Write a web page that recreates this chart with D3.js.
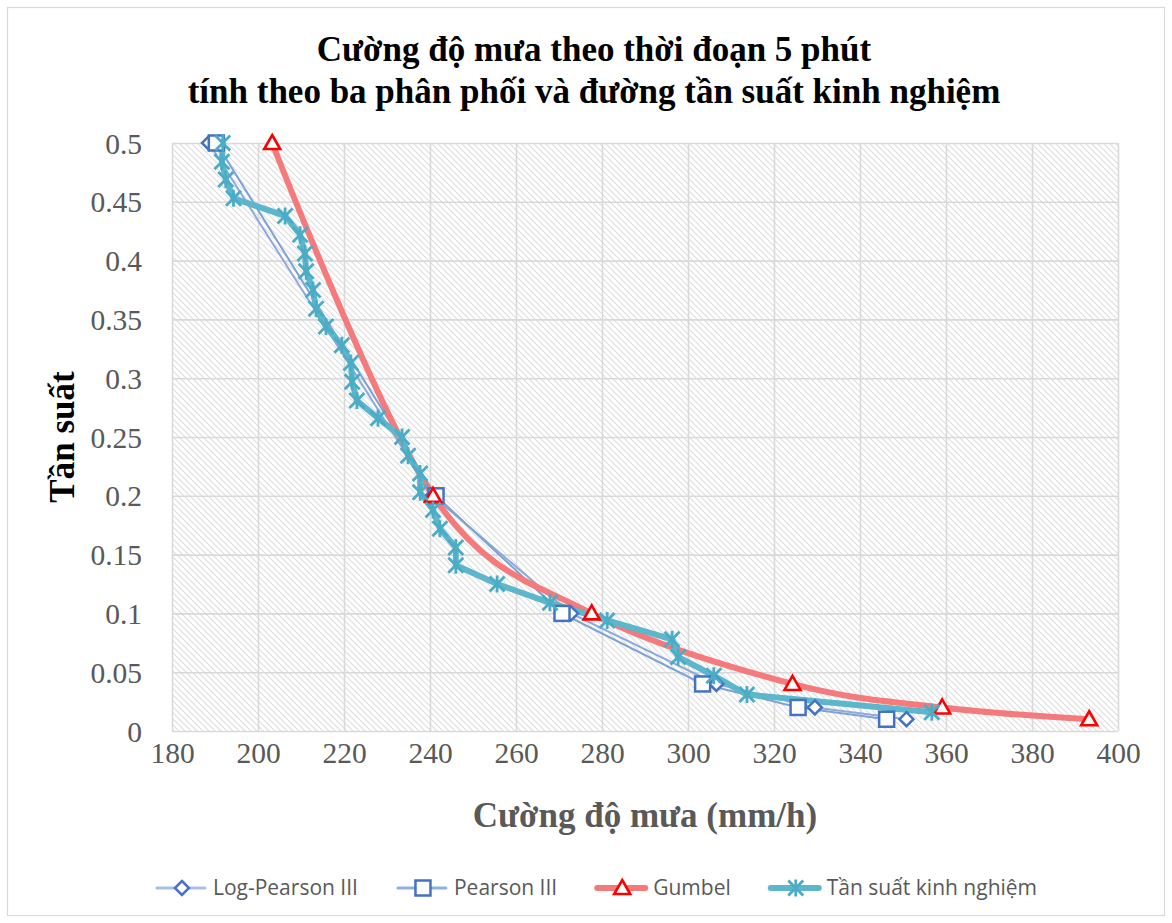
<!DOCTYPE html>
<html lang="vi">
<head>
<meta charset="utf-8" />
<title>Cường độ mưa theo thời đoạn 5 phút</title>
<style>
html, body {
	margin: 0;
	padding: 0;
	background: #fff;
}
svg {
	display: block;
}
.tick text {
	font-family: "Liberation Serif", "Times New Roman", serif;
	font-size: 29.5px;
	fill: #595959;
}
</style>
</head>
<body>
<svg width="1172" height="923"></svg>

<script src="https://cdn.jsdelivr.net/npm/d3@7/dist/d3.min.js"></script>
<script>
// tần suất của ba phân phối lý thuyết
var tanSuat = [0.5, 0.2, 0.1, 0.04, 0.02, 0.01];
var logPearson = [188.6, 240.6, 272.8, 306.6, 329.5, 350.8];
var pearson = [190.3, 241.4, 270.7, 303.4, 325.6, 346.2];
var gumbel = [203.3, 240.7, 277.6, 324.3, 359.1, 393.3];

// đường tần suất kinh nghiệm
var kinhNghiemP = [0.5, 0.484, 0.469, 0.453, 0.438, 0.422, 0.406, 0.391, 0.375, 0.359, 0.344,
	0.328, 0.313, 0.297, 0.281, 0.266, 0.25, 0.234, 0.219, 0.203, 0.188, 0.172, 0.156,
	0.141, 0.125, 0.109, 0.094, 0.078, 0.063, 0.047, 0.031, 0.016];
var kinhNghiemX = [191.8, 191.6, 192.5, 194.3, 206.3, 209.8, 210.9, 211.2, 212.8, 213.5, 215.8,
	219.5, 221.6, 221.9, 223.0, 227.9, 233.5, 234.9, 237.7, 237.7, 240.7, 242.3, 246.0,
	246.0, 255.6, 267.9, 281.2, 296.3, 297.7, 306.0, 313.7, 356.7];

var xTicks = [180, 200, 220, 240, 260, 280, 300, 320, 340, 360, 380, 400];
var yTicks = [0, 0.05, 0.1, 0.15, 0.2, 0.25, 0.3, 0.35, 0.4, 0.45, 0.5];

var tenSeries = ["Log-Pearson III", "Pearson III", "Gumbel", "Tần suất kinh nghiệm"];

var svg = d3.select("svg");

// khung ngoài
svg.append("rect")
	.attr("x", 7.5).attr("y", 7.5)
	.attr("width", 1157).attr("height", 908)
	.attr("fill", "#fff")
	.attr("stroke", "#d9d9d9")
	.attr("stroke-width", 1.2);

var plot = {left: 172, right: 1118, top: 143, bottom: 731};

var x = d3.scaleLinear().domain([180, 400]).range([plot.left, plot.right]);
var y = d3.scaleLinear().domain([0, 0.5]).range([plot.bottom, plot.top]);

// nền gạch chéo
var defs = svg.append("defs");
var pat = defs.append("pattern")
	.attr("id", "hatch")
	.attr("patternUnits", "userSpaceOnUse")
	.attr("width", 6).attr("height", 6);
pat.append("path")
	.attr("d", "M-1,-1 L7,7 M-4,2 L1,7 M2,-4 L7,1")
	.attr("stroke", "#dedede")
	.attr("stroke-width", 1.2);

svg.append("rect")
	.attr("x", plot.left).attr("y", plot.top)
	.attr("width", plot.right - plot.left)
	.attr("height", plot.bottom - plot.top)
	.attr("fill", "url(#hatch)");

// lưới
var gx = svg.append("g")
	.attr("transform", "translate(0," + plot.bottom + ")")
	.call(d3.axisBottom(x).tickValues(xTicks).tickSize(-(plot.bottom - plot.top)).tickPadding(26).tickFormat(d3.format("d")));
var gy = svg.append("g")
	.attr("transform", "translate(" + plot.left + ",0)")
	.call(d3.axisLeft(y).tickValues(yTicks).tickSize(-(plot.right - plot.left)).tickPadding(30).tickFormat(function(d){ return String(+d.toFixed(2)); }));

[gx, gy].forEach(function(g){
	g.select(".domain").remove();
	g.selectAll(".tick line").attr("stroke", "#d9d9d9").attr("stroke-width", 1.6);
});
gy.selectAll(".tick text").attr("dy", "0.34em");
gx.selectAll(".tick text").attr("dy", "0.2em");

// dữ liệu
var dLP = tanSuat.map(function(p, i){ return [logPearson[i], p]; });
var dP = tanSuat.map(function(p, i){ return [pearson[i], p]; });
var dG = tanSuat.map(function(p, i){ return [gumbel[i], p]; });
var dK = kinhNghiemP.map(function(p, i){ return [kinhNghiemX[i], p]; });

var line = d3.line().x(function(d){ return x(d[0]); }).y(function(d){ return y(d[1]); });
var smooth = d3.line().curve(d3.curveCatmullRom.alpha(0)).x(function(d){ return x(d[0]); }).y(function(d){ return y(d[1]); });

svg.append("path").datum(dLP).attr("d", line)
	.attr("fill", "none").attr("stroke", "#8eaadb").attr("stroke-width", 2);
svg.append("path").datum(dP).attr("d", line)
	.attr("fill", "none").attr("stroke", "#7ba3d6").attr("stroke-width", 2);
svg.append("path").datum(dG).attr("d", smooth)
	.attr("fill", "none").attr("stroke", "#f47a7c").attr("stroke-width", 6).attr("stroke-linejoin", "round").attr("stroke-linecap", "round");
svg.append("path").datum(dK).attr("d", line)
	.attr("fill", "none").attr("stroke", "#5cb6cc").attr("stroke-width", 6).attr("stroke-linejoin", "round").attr("stroke-linecap", "round");

// các ký hiệu
function diamond(g) {
	g.append("path").attr("d", "M0,-7 L7,0 L0,7 L-7,0 Z")
		.attr("fill", "#fff").attr("stroke", "#4472c4").attr("stroke-width", 2.5);
}
function square(g) {
	g.append("rect").attr("x", -7.5).attr("y", -7.5).attr("width", 15).attr("height", 15)
		.attr("fill", "#fff").attr("stroke", "#4472c4").attr("stroke-width", 2.5);
}
function triangle(g) {
	g.append("path").attr("d", "M0,-8 L8,6 L-8,6 Z")
		.attr("fill", "#fff").attr("stroke", "#ff0000").attr("stroke-width", 2.6).attr("stroke-linejoin", "miter");
}
function star(g) {
	g.append("path").attr("d", "M-7.5,-7.5 L7.5,7.5 M-7.5,7.5 L7.5,-7.5 M0,-8.5 L0,8.5")
		.attr("fill", "none").attr("stroke", "#4bacc6").attr("stroke-width", 2.8);
}

function markers(data, fn) {
	svg.append("g").selectAll("g")
		.data(data).enter().append("g")
		.attr("transform", function(d){ return "translate(" + x(d[0]) + "," + y(d[1]) + ")"; })
		.each(function(){ fn(d3.select(this)); });
}
markers(dLP, diamond);
markers(dP, square);
markers(dG, triangle);
markers(dK, star);

// tiêu đề
var title = svg.append("text")
	.attr("text-anchor", "middle")
	.attr("font-family", "'Liberation Serif', 'Times New Roman', serif")
	.attr("font-weight", "bold")
	.attr("font-size", 35)
	.attr("fill", "#000");
title.append("tspan").attr("x", 594).attr("y", 61).text("Cường độ mưa theo thời đoạn 5 phút");
title.append("tspan").attr("x", 594).attr("y", 103).text("tính theo ba phân phối và đường tần suất kinh nghiệm");

// tiêu đề trục
svg.append("text")
	.attr("x", 645).attr("y", 827)
	.attr("text-anchor", "middle")
	.attr("font-family", "'Liberation Serif', 'Times New Roman', serif")
	.attr("font-weight", "bold")
	.attr("font-size", 35)
	.attr("fill", "#595959")
	.text("Cường độ mưa (mm/h)");

svg.append("text")
	.attr("transform", "translate(74,437) rotate(-90)")
	.attr("text-anchor", "middle")
	.attr("font-family", "'Liberation Serif', 'Times New Roman', serif")
	.attr("font-weight", "bold")
	.attr("font-size", 35)
	.attr("fill", "#000")
	.text("Tần suất");

// chú giải
var legendFns = [diamond, square, triangle, star];
var legendColors = ["#a9c0e6", "#8fb1de", "#f47a7c", "#5cb6cc"];
var legendWidths = [3, 3, 6, 6];
var legend = svg.append("g");
var lx = 0;
tenSeries.forEach(function(name, i){
	var item = legend.append("g").attr("transform", "translate(" + lx + ",0)");
	item.append("line").attr("x1", 2).attr("x2", 50).attr("y1", 0).attr("y2", 0)
		.attr("stroke", legendColors[i]).attr("stroke-width", legendWidths[i]).attr("stroke-linecap", "round");
	var m = item.append("g").attr("transform", "translate(27,0)");
	legendFns[i](m);
	var t = item.append("text").attr("x", 58).attr("y", 0).attr("dy", "0.35em")
		.attr("font-family", "'Open Sans', 'Noto Sans', sans-serif")
		.attr("font-size", 21)
		.attr("fill", "#595959")
		.text(name);
	lx += 58 + t.node().getComputedTextLength() + 38;
});
var lw = lx - 38;
legend.attr("transform", "translate(" + (596 - lw / 2) + ",888)");
</script>
</body>
</html>
